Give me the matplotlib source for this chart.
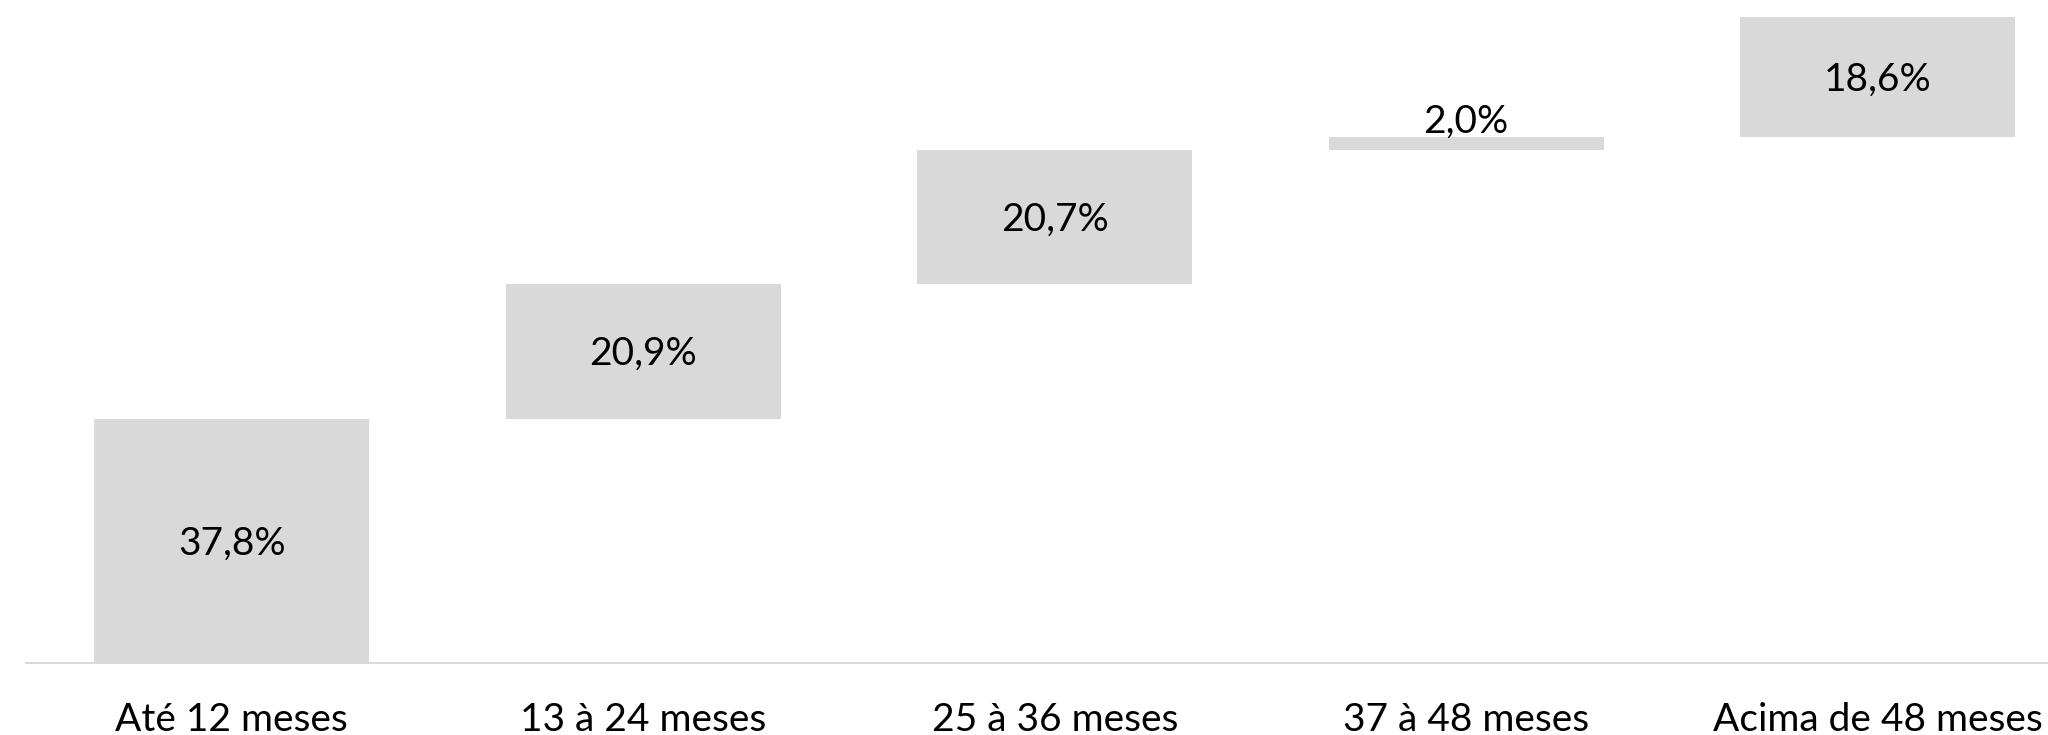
import numpy as np
import matplotlib
matplotlib.use('Agg')
import matplotlib.pyplot as plt

plt.rcParams['font.family'] = ['Lato', 'DejaVu Sans']

# ---- dados ----
categorias = ['Até 12 meses', '13 à 24 meses', '25 à 36 meses', '37 à 48 meses', 'Acima de 48 meses']
valores = [37.8, 20.9, 20.7, 2.0, 18.6]
rotulos = ['37,8%', '20,9%', '20,7%', '2,0%', '18,6%']

C_BAR = '#D9D9D9'
C_AXIS = '#D9D9D9'
FS = 28

valores = np.array(valores)
topo = np.cumsum(valores)
base = topo - valores
x = np.arange(len(categorias))

fig = plt.figure(figsize=(20.48, 7.35), dpi=100)
ax = fig.add_axes([26 / 2048, 72 / 735, 1 - 26 / 2048, (663 - 17) / 735])

ax.bar(x, valores, bottom=base, width=0.668, color=C_BAR, edgecolor='none', zorder=2)

ax.set_xlim(-0.5, 4.414)
ax.set_ylim(0, 100)

for i in range(len(x)):
    if valores[i] < 5:
        # rótulo acima da barra fina
        ax.annotate(rotulos[i], (x[i], topo[i]), xytext=(0, 3.5), textcoords='offset points',
                    ha='center', va='baseline', fontsize=FS, color='black')
    else:
        ax.annotate(rotulos[i], (x[i], base[i] + valores[i] / 2), xytext=(0, -10),
                    textcoords='offset points', ha='center', va='baseline',
                    fontsize=FS, color='black')
    ax.annotate(categorias[i], (x[i], 0), xytext=(0, -49), textcoords='offset points',
                ha='center', va='baseline', fontsize=FS, color='black',
                annotation_clip=False)

ax.set_xticks([])
ax.set_yticks([])
for s in ['top', 'right', 'left']:
    ax.spines[s].set_visible(False)
ax.spines['bottom'].set_color(C_AXIS)
ax.spines['bottom'].set_linewidth(1.5)

fig.savefig('out.png', dpi=100, facecolor='white')
plt.close(fig)
